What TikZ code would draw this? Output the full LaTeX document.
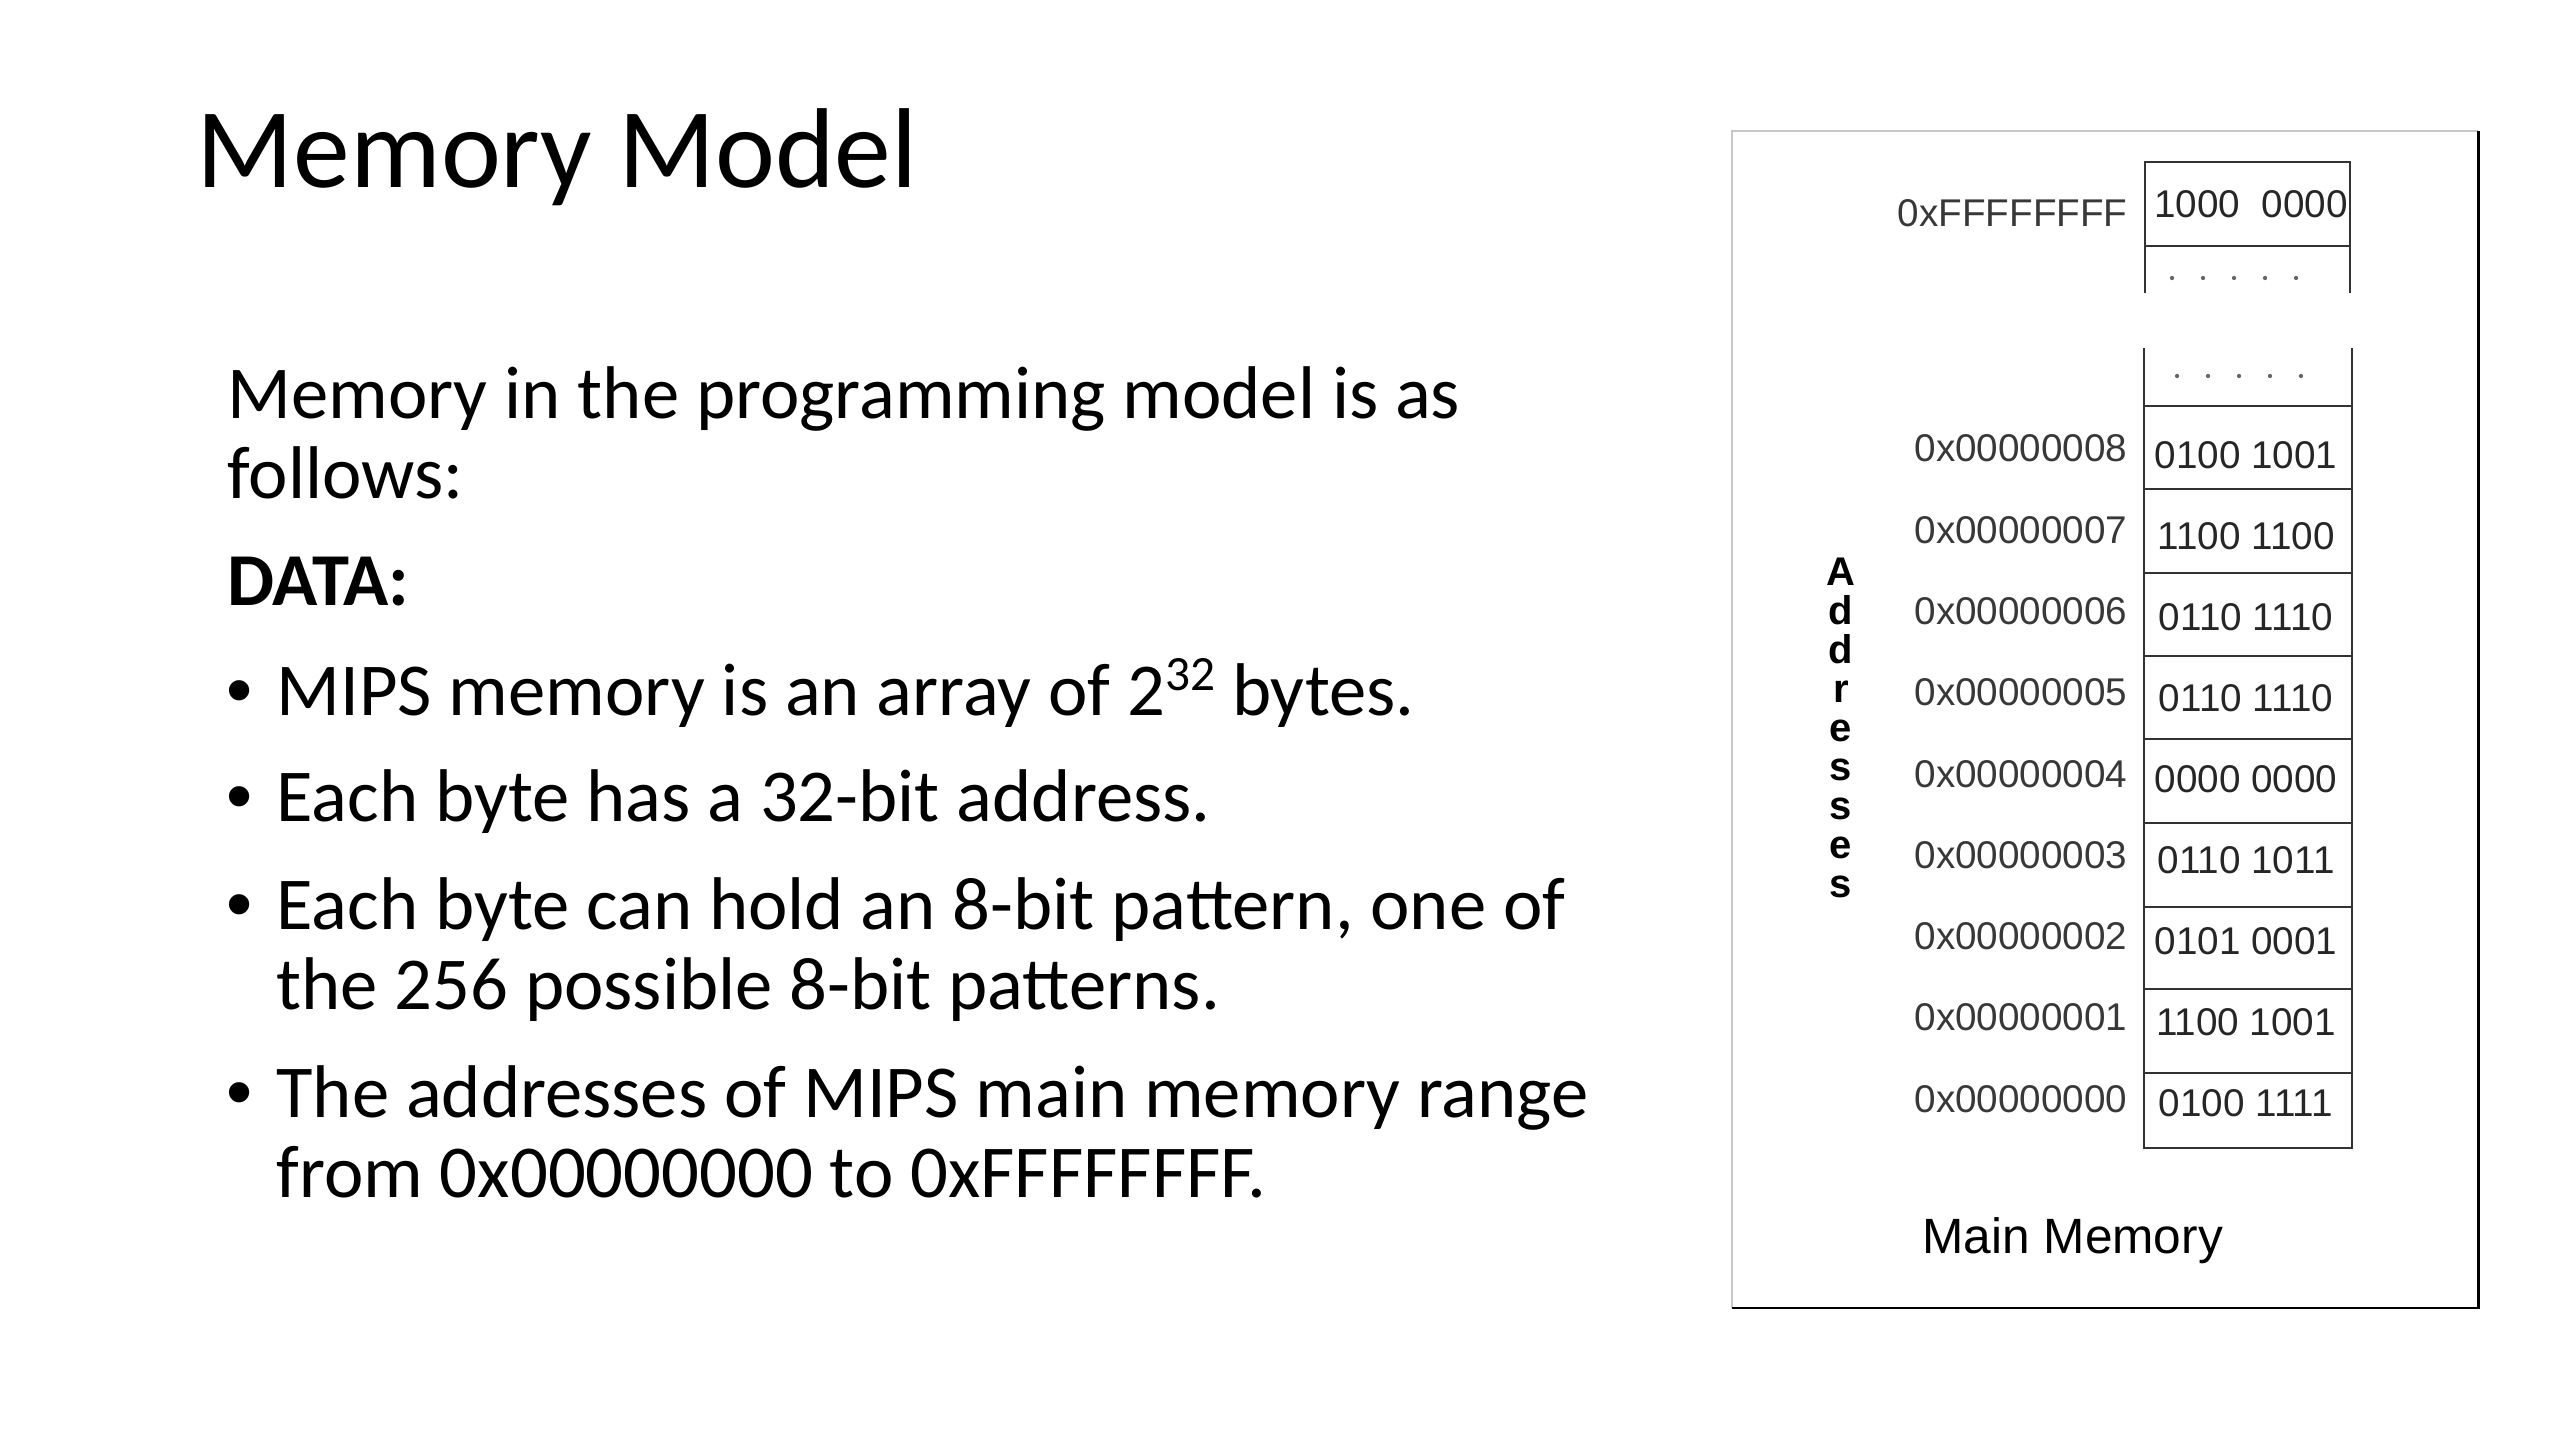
\documentclass[tikz,border=0pt]{standalone}
\usepackage{fontspec}
\setmainfont{Carlito}
\newfontfamily\diagfont{Liberation Sans}
\newcommand{\mysup}[1]{\raisebox{0.33em}{\fontsize{18.5}{20}\selectfont #1}}
\begin{document}
\begin{tikzpicture}[x=0.375pt,y=-0.375pt,
  titletxt/.style={anchor=base west,inner sep=0,font=\fontsize{42.6}{48}\selectfont},
  bodytxt/.style={anchor=base west,inner sep=0,font=\fontsize{28}{33}\selectfont},
  bullettxt/.style={anchor=base west,inner sep=0,font=\diagfont\fontsize{28}{33}\selectfont},
  celltxt/.style={anchor=base,inner sep=0,font=\diagfont\fontsize{14.5}{16}\selectfont,text=black!85},
  addrtxt/.style={anchor=base east,inner sep=0,font=\diagfont\fontsize{14.5}{16}\selectfont,text=black!78},
  vlet/.style={anchor=base,inner sep=0,font=\diagfont\bfseries\fontsize{15}{15}\selectfont},
  cellline/.style={draw=black!80,line width=0.95pt},
  dotmark/.style={fill=black!60}]
\useasboundingbox (0,0) rectangle (2560,1440);

% title
\node[titletxt] (title) at (196,188) {Memory Model};

% body text
\node[bodytxt] (l1) at (227,419) {Memory in the programming model is as};
\node[bodytxt] (l2) at (227,499) {follows:};
\node[bodytxt,font=\fontsize{28}{33}\selectfont\bfseries] (l3) at (227,605) {DATA:};
\node[bullettxt] (b1) at (226,715) {•};
\node[bodytxt] (t1) at (276,715) {MIPS memory is an array of 2\mysup{32} bytes.};
\node[bullettxt] (b2) at (226,821) {•};
\node[bodytxt] (t2) at (276,821) {Each byte has a 32-bit address.};
\node[bullettxt] (b3) at (226,929) {•};
\node[bodytxt] (t3) at (276,929) {Each byte can hold an 8-bit pattern, one of};
\node[bodytxt] (t3b) at (276,1009) {the 256 possible 8-bit patterns.};
\node[bullettxt] (b4) at (226,1117) {•};
\node[bodytxt] (t4) at (276,1117) {The addresses of MIPS main memory range};
\node[bodytxt] (t4b) at (276,1197) {from 0x00000000 to 0xFFFFFFFF.};

% frame of the figure
\draw[black!22,line width=0.8pt] (1732,1308) -- (1732,131) -- (2478,131);
\draw[black,line width=1.1pt] (2478,131) -- (2478,1308) -- (1732,1308);

% top fragment
\draw[cellline] (2145,293) -- (2145,162) -- (2350,162) -- (2350,293);
\draw[cellline] (2145,246) -- (2350,246);
\foreach \i in {0,...,4} \fill[dotmark] (2172+31*\i,278) circle[radius=0.8pt];

% lower fragment
\draw[cellline] (2144,348) -- (2144,1148) -- (2352,1148) -- (2352,348);
\foreach \yy in {406,489,573,656,739,823,907,989,1073}
  \draw[cellline] (2144,\yy) -- (2352,\yy);
\foreach \i in {0,...,4} \fill[dotmark] (2177+31*\i,376) circle[radius=0.8pt];

% cell contents and addresses
\node[celltxt] (cff) at (2251,218) {1000\ \ 0000};
\node[addrtxt] (aff) at (2128,227) {0xFFFFFFFF};
\foreach \k/\a/\v in {0/8/0100 1001,1/7/1100 1100,2/6/0110 1110,3/5/0110 1110,4/4/0000 0000,5/3/0110 1011,6/2/0101 0001,7/1/1100 1001,8/0/0100 1111}{
  \node[celltxt] (c\a) at (2246,468+81.1*\k) {\v};
  \node[addrtxt] (a\a) at (2128,462+81.25*\k) {0x0000000\a};
}

% vertical label
\foreach \k/\c in {0/A,1/d,2/d,3/r,4/e,5/s,6/s,7/e,8/s}
  \node[vlet] (v\k) at (1841,585+39*\k) {\c};

% caption
\node[anchor=base west,inner sep=0,font=\diagfont\fontsize{18.6}{20}\selectfont] (cap) at (1922,1253) {Main Memory};
\end{tikzpicture}
\end{document}
